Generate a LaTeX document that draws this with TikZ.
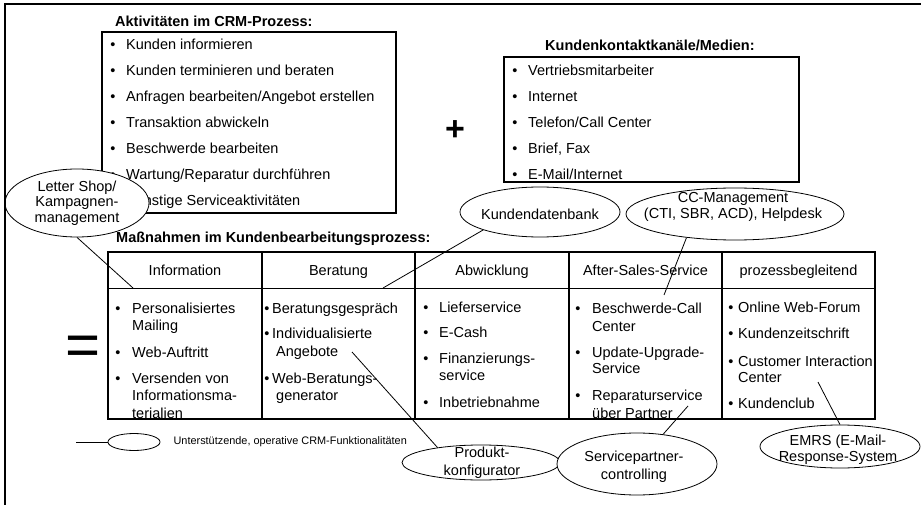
\documentclass[tikz,border=0pt]{standalone}
\usepackage{fontspec}
\setmainfont{Liberation Sans}
\usepackage{tikz}
\usetikzlibrary{shapes.geometric, positioning}

\tikzset{
  titel/.style = {anchor=base west, inner sep=0pt, font=\fontsize{14.5}{17}\selectfont\bfseries},
  zeile/.style = {anchor=base west, inner sep=0pt},
  punkt/.style = {anchor=base, inner sep=0pt},
  kopf/.style = {anchor=base, inner sep=0pt},
  kasten/.style = {draw, line width=1.3pt},
  funktion/.style = {ellipse, draw, fill=white, inner sep=0pt, line width=0.8pt},
  funktext/.style = {align=center, inner sep=0pt},
  verbindung/.style = {line width=0.8pt}
}

\begin{document}
\begin{tikzpicture}[x=1pt, y=-1pt, font=\fontsize{14.5}{17}\selectfont]
    % Parametri
    \pgfmathsetmacro{\zab}{26}
    \pgfmathsetmacro{\tabtop}{252}
    \pgfmathsetmacro{\tabmid}{288}
    \pgfmathsetmacro{\tabbot}{419}
    \useasboundingbox (0,0) rectangle (921,505);
    % Aktivitaeten
    \node[titel] (titel-akt) at (115,27) {Aktivitäten im CRM-Prozess:};
    \draw[kasten] (102,32) rectangle (396,213);
    \foreach \t [count=\i] in {Kunden informieren, Kunden terminieren und beraten,
        Anfragen bearbeiten/Angebot erstellen, Transaktion abwickeln,
        Beschwerde bearbeiten, Wartung/Reparatur durchführen,
        Sonstige Serviceaktivitäten} {
      \pgfmathsetmacro{\yy}{49.5+\zab*(\i-1)}
      \node[punkt] (akt-p\i) at (113,\yy) {\textbullet};
      \node[zeile] (akt\i) at (126,\yy) {\t};
    }
    % plus
    \node[punkt, font=\fontsize{34}{34}\selectfont\bfseries] (plus) at (455,141) {+};
    % Kanaele
    \node[titel] (titel-kanal) at (545,50.7) {Kundenkontaktkanäle/Medien:};
    \draw[kasten] (504,57) rectangle (799,182);
    \foreach \t [count=\i] in {Vertriebsmitarbeiter, Internet, Telefon/Call Center,
        {Brief, Fax}, E-Mail/Internet} {
      \pgfmathsetmacro{\yy}{76+\zab*(\i-1)}
      \node[punkt] (kan-p\i) at (515,\yy) {\textbullet};
      \node[zeile] (kan\i) at (528,\yy) {\t};
    }
    % gleich
    \node[punkt, font=\fontsize{60}{60}\selectfont] (gleich) at (83,365) {=};
    % Tabelle
    \node[titel] (titel-mass) at (116,243) {Maßnahmen im Kundenbearbeitungsprozess:};
    \draw[line width=1.6pt] (108,\tabtop) rectangle (875,\tabbot);
    \draw[line width=1pt] (108,\tabmid) -- (875,\tabmid);
    \foreach \x in {262,415,569,722}
      \draw[line width=1.3pt] (\x,\tabtop) -- (\x,\tabbot);
    \foreach \x/\t [count=\i] in {185/Information, 338.5/Beratung, 492/Abwicklung,
        645.5/After-Sales-Service, 798.5/prozessbegleitend}
      \node[kopf] (kopf\i) at (\x,275) {\t};
    % Information
    \foreach \y/\t in {313/Personalisiertes, 330/Mailing, 357/Web-Auftritt,
        383/Versenden von, 400/Informationsma-, 418/terialien}
      \node[zeile] (inf\y) at (132,\y) {\t};
    \foreach \y in {313,357,383}
      \node[punkt] (inf-p\y) at (118,\y) {\textbullet};
    % Beratung
    \foreach \x/\y/\t in {272/313/Beratungsgespräch, 272/338/Individualisierte,
        276/356/Angebote, 272/383/Web-Beratungs-, 276/400/generator}
      \node[zeile] (ber\y) at (\x,\y) {\t};
    \foreach \y in {313,338,383}
      \node[punkt] (ber-p\y) at (267,\y) {\textbullet};
    % Abwicklung
    \foreach \y/\t in {312/Lieferservice, 337/E-Cash, 363/Finanzierungs-,
        380/service, 407/Inbetriebnahme}
      \node[zeile] (abw\y) at (439,\y) {\t};
    \foreach \y in {312,337,363,407}
      \node[punkt] (abw-p\y) at (426,\y) {\textbullet};
    % After-Sales-Service
    \foreach \y/\t in {313/Beschwerde-Call, 331/Center, 357/Update-Upgrade-,
        373/Service, 400/Reparaturservice, 418/über Partner}
      \node[zeile] (as\y) at (592,\y) {\t};
    \foreach \y in {313,357,400}
      \node[punkt] (as-p\y) at (578,\y) {\textbullet};
    % prozessbegleitend
    \foreach \y/\t in {312/Online Web-Forum, 338/Kundenzeitschrift,
        366/Customer Interaction, 382/Center, 408/Kundenclub}
      \node[zeile] (pb\y) at (738,\y) {\t};
    \foreach \y in {312,338,366,408}
      \node[punkt] (pb-p\y) at (731,\y) {\textbullet};
    % Funktionalitaeten
    \node[funktion, minimum width=144pt, minimum height=68pt] (ls) at (77,203) {};
    \node[funktext, font=\fontsize{14.5}{15.5}\selectfont] (ls-t) at (77,203)
      {Letter Shop/\\Kampagnen-\\management};
    \node[funktion, minimum width=160pt, minimum height=50pt] (kdb) at (540,212) {};
    \node[funktext] (kdb-t) at (540,214) {Kundendatenbank};
    \node[funktion, minimum width=218pt, minimum height=52pt] (cc) at (735,214) {};
    \node[funktext, font=\fontsize{14.5}{16}\selectfont] (cc-t) at (733,207)
      {CC-Management\\(CTI, SBR, ACD), Helpdesk};
    \node[funktion, minimum width=158pt, minimum height=35pt] (pk) at (481,462.5) {};
    \node[funktext, font=\fontsize{14.5}{18}\selectfont] (pk-t) at (482,463)
      {Produkt-\\konfigurator};
    \node[funktion, minimum width=160pt, minimum height=62pt] (sp) at (637,464) {};
    \node[funktext, font=\fontsize{14.5}{18}\selectfont] (sp-t) at (634,467)
      {Servicepartner-\\controlling};
    \node[funktion, minimum width=160pt, minimum height=43pt] (emrs) at (840,446.5) {};
    \node[funktext, font=\fontsize{14.5}{16}\selectfont] (emrs-t) at (838,450)
      {EMRS (E-Mail-\\Response-System};
    % Verbindungen
    \coordinate (infoP) at (133,\tabmid);
    \coordinate (berP) at (383,\tabmid);
    \coordinate (angP) at (352,352);
    \coordinate (asP) at (664,295);
    \coordinate (repP) at (688,406);
    \coordinate (cicP) at (818,382);
    \draw[verbindung] (ls.south) -- (infoP);
    \draw[verbindung] (kdb.south west) -- (berP);
    \draw[verbindung] (cc.206) -- (asP);
    \draw[verbindung] (pk.161) -- (angP);
    \draw[verbindung] (sp) -- (repP);
    \draw[verbindung] (emrs.north) -- (cicP);
    % Legende
    \node[funktion, minimum width=52pt, minimum height=17pt] (leg) at (134,442) {};
    \coordinate (legP) at (76,442);
    \draw[verbindung] (legP) -- (leg);
    \node[right=13pt of leg, inner sep=0pt, font=\fontsize{10.9}{13}\selectfont] (leg-t)
      {Unterstützende, operative CRM-Funktionalitäten};
    % Rahmen
    \draw[line width=1.6pt] (5,505) -- (5,4) -- (921,4);
\end{tikzpicture}
\end{document}
